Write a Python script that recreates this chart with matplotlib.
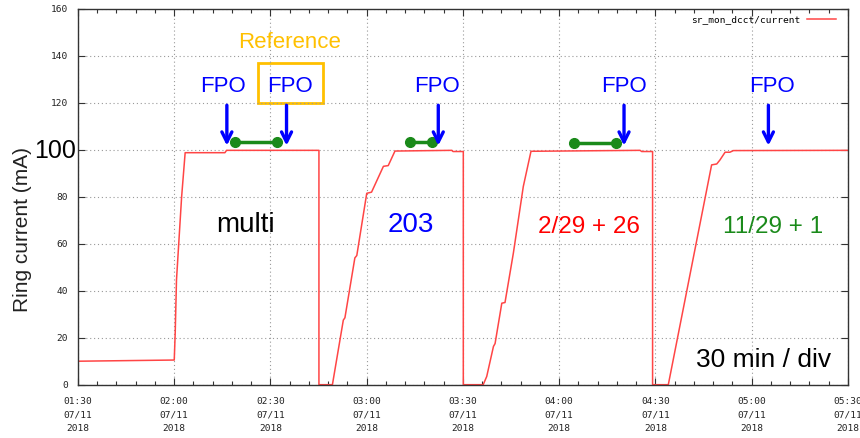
import matplotlib
matplotlib.use("Agg")
import matplotlib.pyplot as plt
from matplotlib.patches import Rectangle
from matplotlib.ticker import MultipleLocator, FixedLocator

# beam current trace, minutes after 01:30 on 07/11/2018
time_min = [0, 30, 30.3, 30.7, 32.3, 33.4, 45.8, 46.3, 75.1, 75.1,
            79.3, 82.7, 83.2, 86.3, 86.9, 90.0, 91.5, 95.2, 96.7, 98.8,
            116.5, 116.9, 120.1, 120.1, 126.3, 127.4, 129.5, 130.0, 132.1, 133.1,
            135.7, 138.8, 141.2, 175.2, 175.7, 179.1, 179.1, 184.0, 197.5, 199.1,
            200.1, 201.7, 203.2, 204.3, 240]
current_ma = [10, 10.5, 22, 44.6, 80, 98.8, 98.8, 99.8, 99.8, 0,
              0, 27.5, 28.5, 54, 55, 81.5, 82, 93, 93.3, 99.5,
              99.8, 99.3, 99.3, 0, 0, 3.5, 16.3, 17.5, 34.7, 35,
              56, 84.4, 99.4, 99.8, 99.3, 99.3, 0, 0, 93.6, 94,
              95.7, 99, 99, 99.7, 99.8]

tick_times = ["01:30", "02:00", "02:30", "03:00", "03:30", "04:00", "04:30", "05:00", "05:30"]
y_ticks = [0, 20, 40, 60, 80, 100, 120, 140, 160]

# FPO markers (arrow position) and the intervals before them
fpo_x = [46.4, 65.0, 112.3, 170.2, 215.2]
fpo_label_x = [45.2, 66.1, 112.0, 170.3, 216.2]
interval_start = [49.0, 103.5, 154.7]
interval_end = [61.9, 110.3, 167.6]
interval_y = [103.5, 103.5, 103.1]

# fill pattern labels
fill_labels = ["multi", "203", "2/29 + 26", "11/29 + 1"]
fill_x = [52.1, 103.8, 159.2, 216.5]
fill_colors = ["black", "#0000ff", "#ff0000", "#1a8a1a"]

mono = "DejaVu Sans Mono"
sans = "Liberation Sans"

fig = plt.figure(figsize=(8.6, 4.38), dpi=100)
ax = fig.add_axes([0.0907, 0.1217, 0.8953, 0.8578])

ax.plot(time_min, current_ma, color="#ff4545", lw=1.1, label="sr_mon_dcct/current")

ax.set_xlim(0, 240)
ax.set_ylim(0, 160)
ax.xaxis.set_major_locator(FixedLocator(range(0, 241, 30)))
ax.xaxis.set_minor_locator(MultipleLocator(6))
ax.yaxis.set_major_locator(FixedLocator(y_ticks))
ax.set_xticklabels([f"{t}\n07/11\n2018" for t in tick_times],
                   fontfamily=mono, fontsize=6.8, linespacing=1.65, color="#222")
# the 100 level gets its own large label
ax.set_yticklabels([str(v) if v != 100 else "" for v in y_ticks],
                   fontfamily=mono, fontsize=6.8, color="#222")
ax.tick_params(which="both", direction="in", top=True, right=True, color="#333")
ax.tick_params(which="major", length=5, width=0.8)
ax.tick_params(which="minor", length=3, width=0.8)
ax.tick_params(axis="x", which="major", pad=9)
ax.tick_params(axis="y", which="major", pad=7)
ax.grid(True, which="major", linestyle=(0, (1, 2.5)), color="#999", lw=0.8)
for sp in ax.spines.values():
    sp.set_color("#333")
    sp.set_linewidth(1.0)

leg = ax.legend(loc="upper right", frameon=False, markerfirst=False,
                prop={"family": mono, "size": 6.8}, handlelength=3.1,
                borderaxespad=0.2, handletextpad=0.7,
                bbox_to_anchor=(1 - 6 / 770, 1 - 1 / 429))

# big 100 label and axis title
ax.text(-0.002, 96.4, "100", transform=ax.get_yaxis_transform(), ha="right",
        va="baseline", fontsize=18, family=sans, color="black")
fig.text(23 / 860, 1 - 230 / 438, "Ring current (mA)", rotation=90, ha="center",
         va="center", fontsize=15, family=sans, color="#222")

# FPO arrows and labels
for x, lx in zip(fpo_x, fpo_label_x):
    ax.annotate("", xy=(x, 101.8), xytext=(x, 119),
                arrowprops=dict(arrowstyle="->", color="#0000ff", lw=2.4,
                                mutation_scale=18, shrinkA=0, shrinkB=0))
    ax.text(lx, 124.8, "FPO", ha="center", va="baseline", fontsize=16,
            family=sans, color="#0000ff")

for x0, x1, y in zip(interval_start, interval_end, interval_y):
    ax.plot([x0, x1], [y, y], color="#1a8a1a", lw=2.5, marker="o", ms=7)

# reference box
ax.add_patch(Rectangle((56.0, 120.1), 20.4, 16.8, fill=False,
                       edgecolor="#ffc000", lw=2))
ax.text(66.1, 143.3, "Reference", ha="center", va="baseline", fontsize=16,
        family=sans, color="#ffc000")

for lbl, x, c in zip(fill_labels, fill_x, fill_colors):
    if "/" in lbl:
        ax.text(x, 64.5, lbl, ha="center", va="baseline", fontsize=17.5,
                family=sans, color=c)
    else:
        ax.text(x, 65.2, lbl, ha="center", va="baseline", fontsize=20,
                family=sans, color=c)

ax.text(213.8, 7.7, "30 min / div", ha="center", va="baseline", fontsize=19,
        family=sans, color="black")

fig.savefig("out.png", dpi=100)
